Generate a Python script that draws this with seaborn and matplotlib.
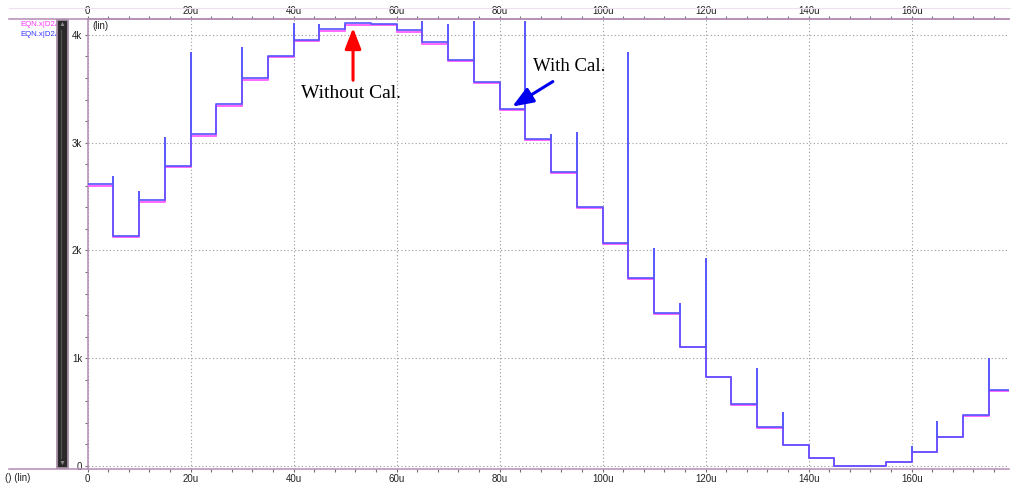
import matplotlib
matplotlib.use("Agg")
import matplotlib.pyplot as plt
import seaborn as sns
import pandas as pd
from matplotlib.patches import Rectangle, Polygon
from matplotlib.lines import Line2D
from matplotlib.transforms import Bbox, TransformedBbox
from matplotlib.ticker import MultipleLocator, FuncFormatter

# ---------------- data ----------------
step_start_us = [0, 5, 10, 15, 20, 25, 30, 35, 40, 45, 50, 55, 60, 65, 70, 75, 80, 85,
                 90, 95, 100, 105, 110, 115, 120, 125, 130, 135, 140, 145, 150, 155,
                 160, 165, 170, 175]
end_us = 180

with_cal = [2616, 2134, 2465, 2783, 3083, 3361, 3602, 3806, 3952, 4051, 4109, 4100,
            4042, 3930, 3769, 3562, 3312, 3033, 2730, 2403, 2069, 1741, 1419, 1107,
            828, 572, 359, 195, 71, 3, 0, 34, 130, 272, 470, 702]

without_cal = [2600, 2120, 2450, 2770, 3065, 3343, 3585, 3790, 3940, 4040, 4095, 4092,
               4030, 3918, 3755, 3550, 3300, 3022, 2718, 2395, 2062, 1735, 1414, 1103,
               825, 569, 357, 193, 70, 2, 0, 33, 128, 270, 468, 700]

spike_time_us = [5, 10, 15, 20, 30, 40, 45, 65, 70, 75, 85, 90, 95, 105, 110, 115,
                 120, 130, 135, 160, 165, 175]
spike_peak = [2681, 2542, 3043, 3831, 3880, 4100, 4091, 4116, 4091, 4116, 4116, 3071,
              3086, 3828, 2013, 1503, 1923, 897, 494, 173, 405, 990]

x_major_labels = ["0", "20u", "40u", "60u", "80u", "100u", "120u", "140u", "160u"]
y_major_labels = ["0", "1k", "2k", "3k", "4k"]

label_without = "Without Cal."
label_with = "With Cal."
legend_name = "EQN.x|D2A"


def build_path(starts, values, end, spikes):
    xs, ys = [starts[0]], [values[0]]
    for i in range(1, len(starts)):
        t = starts[i]
        xs.append(t); ys.append(values[i - 1])
        if t in spikes:
            xs.append(t); ys.append(spikes[t])
        xs.append(t); ys.append(values[i])
    xs.append(end); ys.append(values[-1])
    return pd.DataFrame({"t": xs, "v": ys})


df_wo = build_path(step_start_us, without_cal, end_us, {})
df_w = build_path(step_start_us, with_cal, end_us, dict(zip(spike_time_us, spike_peak)))

# ---------------- figure ----------------
W, H = 1024, 488
fig = plt.figure(figsize=(W / 100, H / 100), dpi=100, facecolor="white")

ax_l, ax_r, ax_t, ax_b = 87.5, 1009, 19, 468.5
ax = fig.add_axes([ax_l / W, 1 - ax_b / H, (ax_r - ax_l) / W, (ax_b - ax_t) / H])
ax.set_facecolor("white")

sns.lineplot(data=df_wo, x="t", y="v", sort=False, estimator=None, ax=ax,
             color="#ff66ff", lw=1.4, zorder=3)
sns.lineplot(data=df_w, x="t", y="v", sort=False, estimator=None, ax=ax,
             color="#5252ff", lw=1.25, alpha=0.95, zorder=4)

ax.set_xlim(0, 178.9)
ax.set_ylim(-23, 4147)
ax.set_xlabel("")
ax.set_ylabel("")

xfmt = FuncFormatter(
    lambda v, p: x_major_labels[int(round(v / 20))] if 0 <= round(v / 20) < len(x_major_labels) else "")
yfmt = FuncFormatter(
    lambda v, p: y_major_labels[int(round(v / 1000))] if 0 <= round(v / 1000) < len(y_major_labels) else "")

ax.xaxis.set_major_locator(MultipleLocator(20))
ax.xaxis.set_minor_locator(MultipleLocator(4))
ax.yaxis.set_major_locator(MultipleLocator(1000))
ax.yaxis.set_minor_locator(MultipleLocator(200))
ax.xaxis.set_major_formatter(xfmt)
ax.yaxis.set_major_formatter(yfmt)

spine_c = "#b48cb4"
for s in ["top", "bottom", "left"]:
    ax.spines[s].set_color(spine_c)
    ax.spines[s].set_linewidth(1.1)
ax.spines["right"].set_visible(False)

tick_c = "#707070"
lab_c = "#222222"
ax.tick_params(axis="x", which="both", top=False, labeltop=False, bottom=True,
               labelbottom=True, direction="out", length=2.4, width=0.8,
               color=tick_c, labelsize=7, pad=1.2, labelcolor=lab_c)
ax.tick_params(axis="y", which="both", left=True, direction="out", length=2.4,
               width=0.8, color=tick_c, labelsize=7, pad=1.5, labelcolor=lab_c)

sec = ax.secondary_xaxis("top")
sec.xaxis.set_major_locator(MultipleLocator(20))
sec.xaxis.set_minor_locator(MultipleLocator(4))
sec.xaxis.set_major_formatter(xfmt)
sec.spines["top"].set_color(spine_c)
sec.spines["top"].set_linewidth(1.1)
sec.tick_params(axis="x", which="both", direction="out", length=2.4, width=0.8,
                color=tick_c, labelsize=7, pad=-0.5, labelcolor=lab_c)

for lab in ax.get_xticklabels() + ax.get_yticklabels() + sec.get_xticklabels():
    lab.set_fontfamily("Liberation Sans")

ax.grid(which="major", linestyle=(0, (1, 2.2)), color="#9a9a9a", lw=0.8)
ax.set_axisbelow(True)

# annotations
ax.annotate("", xy=(51.55, 4090), xytext=(51.55, 3553),
            arrowprops=dict(arrowstyle="-|>,head_length=0.9,head_width=0.35",
                            color="#ff0000", lw=2.2, mutation_scale=14), zorder=6)
ax.text(51.2, 3460, label_without, ha="center", va="center", fontsize=14,
        family="Liberation Serif", color="black", zorder=6)
ax.annotate("", xy=(82.0, 3321), xytext=(90.8, 3580),
            arrowprops=dict(arrowstyle="-|>,head_length=0.9,head_width=0.35",
                            color="#0000ee", lw=2.2, mutation_scale=14), zorder=6)
ax.text(93.6, 3710, label_with, ha="center", va="center", fontsize=13.5,
        family="Liberation Serif", color="black", zorder=6)

# ---------------- decorations outside axes ----------------
def fx(px):
    return px / W


def fy(py):
    return 1 - py / H


fig.add_artist(Line2D([fx(9), fx(1010)], [fy(8), fy(8)], color="#f0dff0", lw=0.8))
fig.add_artist(Line2D([fx(9), fx(ax_l)], [fy(ax_t), fy(ax_t)], color=spine_c, lw=1.1))
fig.add_artist(Line2D([fx(9), fx(ax_l)], [fy(ax_b), fy(ax_b)], color=spine_c, lw=1.1))

clip = TransformedBbox(Bbox([[0, 0], [fx(56.5), 1]]), fig.transFigure)
for yy, cc in [(25, "#ff33ff"), (34, "#3333ff")]:
    t = fig.text(fx(20), fy(yy), legend_name, color=cc, fontsize=5.6,
                 family="Liberation Sans", va="center", ha="left", zorder=1)
    t.set_clip_box(clip)
    t.set_clip_on(True)

bar = Rectangle((fx(56.7), fy(468)), fx(68.3) - fx(56.7), fy(20) - fy(468),
                transform=fig.transFigure, facecolor="#2a2a2a", edgecolor="#a890a8",
                lw=1.3, zorder=5)
fig.add_artist(bar)
fig.add_artist(Line2D([fx(60.5), fx(60.5)], [fy(30), fy(458)], color="#555555",
                      lw=0.8, zorder=6))
fig.add_artist(Polygon([[fx(60.5), fy(26)], [fx(64.5), fy(26)], [fx(62.5), fy(22)]],
                       closed=True, transform=fig.transFigure, facecolor="#8a8a8a",
                       edgecolor="none", zorder=7))
fig.add_artist(Polygon([[fx(60.5), fy(461)], [fx(64.5), fy(461)], [fx(62.5), fy(465)]],
                       closed=True, transform=fig.transFigure, facecolor="#8a8a8a",
                       edgecolor="none", zorder=7))

fig.text(fx(92), fy(26), "(lin)", fontsize=7, family="Liberation Sans",
         color=lab_c, va="center", ha="left")
fig.text(fx(5), fy(478), "() (lin)", fontsize=7, family="Liberation Sans",
         color=lab_c, va="center", ha="left")

fig.savefig("out.png", dpi=100, facecolor="white")
